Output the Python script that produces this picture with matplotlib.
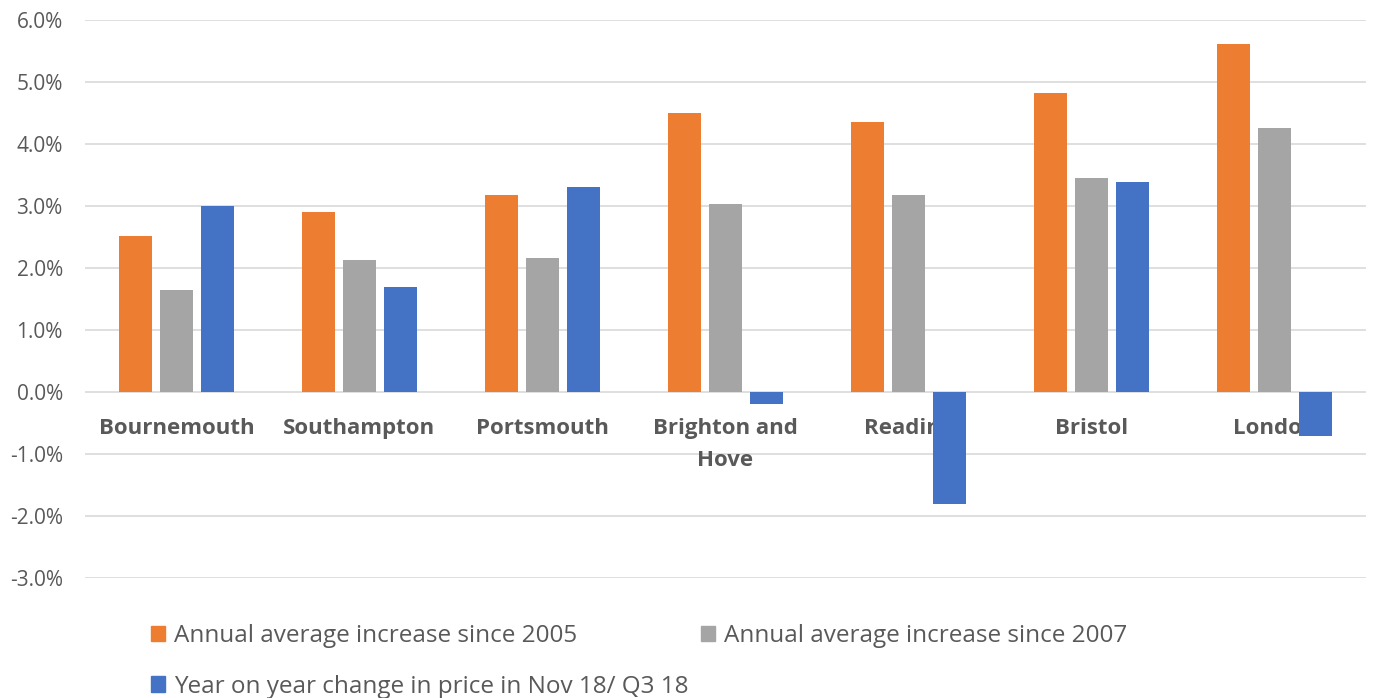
import numpy as np
import matplotlib.pyplot as plt
from matplotlib.patches import Patch

cities = ["Bournemouth", "Southampton", "Portsmouth", "Brighton and\nHove",
          "Reading", "Bristol", "London"]
since_2005 = [2.52, 2.90, 3.18, 4.50, 4.35, 4.82, 5.61]
since_2007 = [1.65, 2.13, 2.16, 3.03, 3.18, 3.45, 4.26]
yoy_change = [3.00, 1.69, 3.31, -0.19, -1.81, 3.39, -0.71]

labels = ["Annual average increase since 2005",
          "Annual average increase since 2007",
          "Year on year change in price in Nov 18/ Q3 18"]
colors = ["#ED7D31", "#A5A5A5", "#4472C4"]
txt = "#595959"

plt.rcParams['font.family'] = ['Open Sans', 'DejaVu Sans']

fig = plt.figure(figsize=(13.76, 6.98), dpi=100)
ax = fig.add_axes([85/1376, 0.172, 1281/1376, 0.799])

x = np.arange(len(cities))
w = 0.175
step = 0.224
for k, vals in enumerate([since_2005, since_2007, yoy_change]):
    ax.bar(x + (k - 1) * step, vals, w, color=colors[k], zorder=3)

# category names sit under the zero line, behind the bars
for i, name in enumerate(cities):
    ax.text(i, -0.42, name, ha='center', va='top', fontsize=16,
            fontweight='bold', color=txt, zorder=2, linespacing=1.7)

ax.set_xlim(-0.5, 6.5)
ax.set_ylim(-3, 6)
ax.set_yticks(np.arange(-3, 7, 1))
ax.set_yticklabels(["%.1f%%" % v for v in np.arange(-3, 7, 1)])
ax.set_xticks([])
ax.tick_params(axis='y', length=0, pad=16, labelsize=15, labelcolor=txt)
ax.grid(axis='y', color='#D9D9D9', linewidth=1.2, zorder=0)
for s in ax.spines.values():
    s.set_visible(False)

handles = [Patch(color=colors[0]), Patch(color=colors[2]), Patch(color=colors[1])]
fig.legend(handles, [labels[0], labels[2], labels[1]], ncol=2,
           loc='upper left', bbox_to_anchor=(129/1376, 1 - 602/698),
           frameon=False, fontsize=17.5, handlelength=0.6, handleheight=0.6,
           handletextpad=0.35, columnspacing=0.5, labelspacing=1.1,
           labelcolor=txt)

plt.savefig("out.png", dpi=100)
